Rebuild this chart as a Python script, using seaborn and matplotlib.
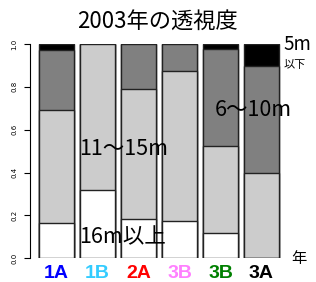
import matplotlib
matplotlib.use("Agg")
import matplotlib.pyplot as plt
import seaborn as sns
import pandas as pd
import numpy as np

# share of each clarity class per site (bottom -> top)
sites = ["1A", "1B", "2A", "3B", "3B", "3A"]
site_colors = ["#0000FF", "#33CCFF", "#FF0000", "#FF80FF", "#008000", "#000000"]
over16 = [0.166, 0.318, 0.184, 0.174, 0.120, 0.0]
m11_15 = [0.527, 0.682, 0.606, 0.701, 0.403, 0.397]
m6_10 = [0.277, 0.0, 0.210, 0.125, 0.454, 0.502]
under5 = [0.030, 0.0, 0.0, 0.0, 0.023, 0.101]

sns.set_theme(style="white")
plt.rcParams["font.family"] = ["Noto Sans CJK JP", "DejaVu Sans"]
plt.rcParams["text.color"] = "black"
plt.rcParams["ytick.color"] = "black"

df = pd.DataFrame({"pos": np.arange(len(sites)), "a": over16, "b": m11_15,
                   "c": m6_10, "d": under5})
df["c1"] = df["a"]
df["c2"] = df["c1"] + df["b"]
df["c3"] = df["c2"] + df["c"]
df["c4"] = df["c3"] + df["d"]

fig = plt.figure(figsize=(3.16, 2.82), dpi=100)
ax = fig.add_axes([30 / 316, (282 - 258.3) / 282, 252 / 316, 214.3 / 282])

layers = [("c4", "#000000"), ("c3", "#808080"), ("c2", "#CCCCCC"), ("c1", "#FFFFFF")]
for col, color in layers:
    sns.barplot(data=df, x="pos", y=col, native_scale=True, color=color,
                width=0.85, edgecolor="#222222", linewidth=1.0, ax=ax,
                saturation=1)

ax.set_xlim(-0.646, 5.5)
ax.set_ylim(0, 1)
ax.set_xlabel("")
ax.set_ylabel("")
for s in ["top", "right", "bottom"]:
    ax.spines[s].set_visible(False)
ax.spines["left"].set_color("black")
ax.spines["left"].set_linewidth(0.8)

yt = [0.0, 0.2, 0.4, 0.6, 0.8, 1.0]
ax.set_yticks(yt)
ax.set_yticklabels([f"{v:.1f}" for v in yt], rotation=90, va="center",
                   fontsize=5, family="DejaVu Sans")
ax.tick_params(axis="y", length=4, width=0.8, direction="out", left=True, pad=5)

ax.set_xticks(df["pos"])
ax.set_xticklabels(sites, fontsize=14, fontweight="bold", family="Liberation Sans")
ax.tick_params(axis="x", length=0, pad=5)
for lab, c in zip(ax.get_xticklabels(), site_colors):
    lab.set_color(c)

fig.text(157 / 316, 1 - 22 / 282, "2003年の透視度", ha="center", va="center",
         fontsize=16, color="black")

def px(x, y):
    return (x - 56.5) / 41, (258.3 - y) / 214.3

kw = dict(va="center", ha="left", clip_on=False, color="black")
ax.text(*px(79, 149), "11〜15m", fontsize=15.5, **kw)
ax.text(*px(215, 110), "6〜10m", fontsize=15.5, **kw)
ax.text(*px(79, 237), "16m以上", fontsize=15.5, **kw)
ax.text(*px(283, 45), "5m", fontsize=13.5, **kw)
ax.text(*px(284, 65), "以下", fontsize=8, **kw)
ax.text(*px(291, 258), "年", fontsize=11, **kw)

fig.savefig("out.png", dpi=100)
